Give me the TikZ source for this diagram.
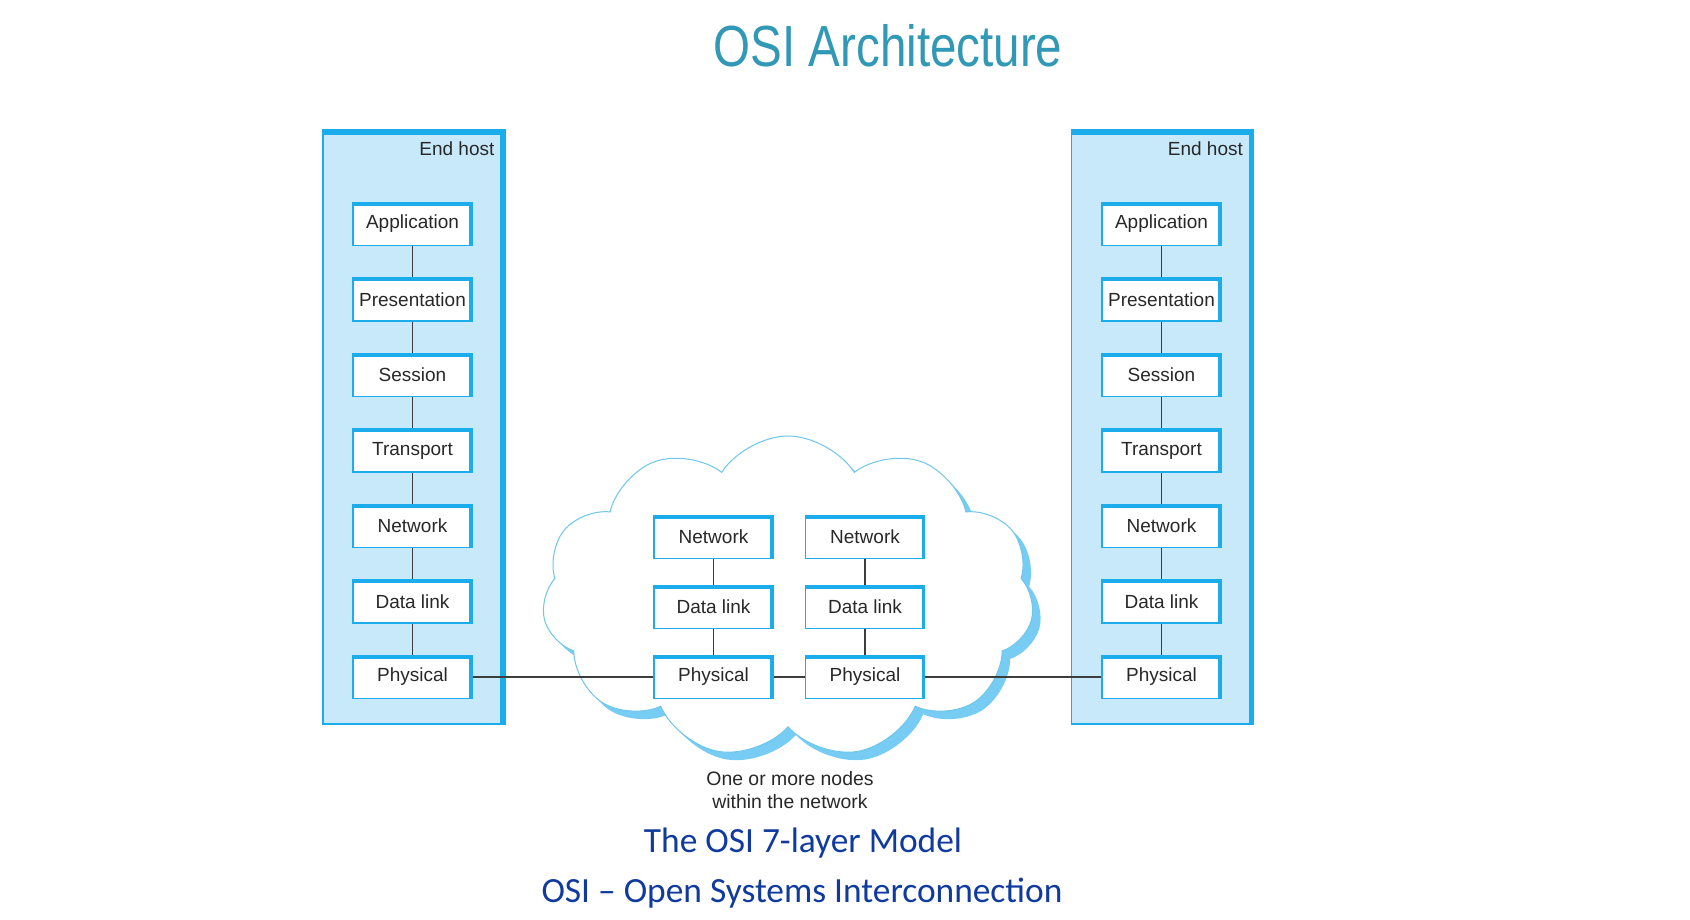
\documentclass[tikz,border=0pt]{standalone}
\usepackage{fontspec}
\usepackage{graphicx}
\setmainfont{Liberation Sans}
\newfontfamily\captionfont[Ligatures=TeX]{Carlito}
\usepackage{tikz}
\usetikzlibrary{shapes.symbols}
\definecolor{hostfill}{RGB}{200,233,249}
\definecolor{hostblue}{RGB}{27,172,235}
\definecolor{cloudline}{RGB}{110,198,235}
\definecolor{cloudshadow}{RGB}{118,204,242}
\definecolor{titleteal}{RGB}{49,152,181}
\definecolor{captionblue}{RGB}{16,58,158}
\definecolor{textgrey}{RGB}{40,40,40}
\tikzstyle{host}=[rectangle,draw=hostblue,line width=1.2pt,fill=hostfill,minimum width=182pt,minimum height=594pt,
  path picture={\fill[hostblue] (path picture bounding box.north west) rectangle ([yshift=-5pt]path picture bounding box.north east);
                \fill[hostblue] ([xshift=-5pt]path picture bounding box.north east) rectangle (path picture bounding box.south east);}]
\tikzstyle{layer}=[rectangle,draw=hostblue,line width=1.2pt,fill=white,minimum width=119pt,minimum height=43pt,inner sep=0pt,
  text=textgrey,font=\fontsize{19}{22}\selectfont,
  path picture={\fill[hostblue] (path picture bounding box.north west) rectangle ([yshift=-3.5pt]path picture bounding box.north east);
                \fill[hostblue] ([xshift=-3pt]path picture bounding box.north east) rectangle (path picture bounding box.south east);}]
\tikzstyle{hostlabel}=[inner sep=0pt,text=textgrey,font=\fontsize{19}{22}\selectfont]
\tikzstyle{netcloud}=[cloud,cloud puffs=11,cloud puff arc=115,aspect=1.5,minimum width=492pt,minimum height=322pt,inner sep=0pt]
\tikzstyle{wire}=[draw=textgrey!90,line width=1.3pt]
\tikzstyle{caption}=[anchor=base,text=captionblue,font=\captionfont\fontsize{35.4}{38}\selectfont]

\begin{document}
\begin{tikzpicture}[x=1pt,y=1pt]
      \path [use as bounding box,fill=white] (0,0) rectangle (1690,920);
      \node [anchor=base,text=titleteal,font=\fontsize{58}{60}\selectfont] (title) at (888,853) {\scalebox{0.82}[1]{OSI Architecture}};

      \node [host] (lefthost) at (414,493) {};
      \node [hostlabel] (lefttag) [anchor=north east] at ([xshift=-11pt,yshift=-12pt]lefthost.north east) {End host};
      \node [layer] (lapp) at (412.5,696) {Application};
      \node [layer] (lpres) [below of=lapp, node distance=75.5pt] {Presentation};
      \node [layer] (lses) [below of=lpres, node distance=75.5pt] {Session};
      \node [layer] (ltrans) [below of=lses, node distance=75.5pt] {Transport};
      \node [layer] (lnet) [below of=ltrans, node distance=75.5pt] {Network};
      \node [layer] (llink) [below of=lnet, node distance=75.5pt] {Data link};
      \node [layer] (lphy) [below of=llink, node distance=75.5pt] {Physical};

      \node [host] (righthost) [right of=lefthost, node distance=748.5pt] {};
      \node [hostlabel] (righttag) [anchor=north east] at ([xshift=-11pt,yshift=-12pt]righthost.north east) {End host};
      \node [layer] (rapp) [right of=lapp, node distance=749pt] {Application};
      \node [layer] (rpres) [below of=rapp, node distance=75.5pt] {Presentation};
      \node [layer] (rses) [below of=rpres, node distance=75.5pt] {Session};
      \node [layer] (rtrans) [below of=rses, node distance=75.5pt] {Transport};
      \node [layer] (rnet) [below of=rtrans, node distance=75.5pt] {Network};
      \node [layer] (rlink) [below of=rnet, node distance=75.5pt] {Data link};
      \node [layer] (rphy) [below of=rlink, node distance=75.5pt] {Physical};

      \node [netcloud,fill=cloudshadow] (shade) at (796,315) {};
      \node [netcloud,fill=white,draw=cloudline,line width=1pt] (cloud) at (788,323) {};
      \node [layer] (mnet1) at (713.5,383) {Network};
      \node [layer] (mlink1) [below of=mnet1, node distance=70pt] {Data link};
      \node [layer] (mphy1) [below of=mlink1, node distance=70pt] {Physical};
      \node [layer] (mnet2) [right of=mnet1, node distance=151.5pt] {Network};
      \node [layer] (mlink2) [below of=mnet2, node distance=70pt] {Data link};
      \node [layer] (mphy2) [below of=mlink2, node distance=70pt] {Physical};

      \draw [wire] (lapp) -- (lpres);
      \draw [wire] (lpres) -- (lses);
      \draw [wire] (lses) -- (ltrans);
      \draw [wire] (ltrans) -- (lnet);
      \draw [wire] (lnet) -- (llink);
      \draw [wire] (llink) -- (lphy);
      \draw [wire] (rapp) -- (rpres);
      \draw [wire] (rpres) -- (rses);
      \draw [wire] (rses) -- (rtrans);
      \draw [wire] (rtrans) -- (rnet);
      \draw [wire] (rnet) -- (rlink);
      \draw [wire] (rlink) -- (rphy);
      \draw [wire] (mnet1) -- (mlink1);
      \draw [wire] (mlink1) -- (mphy1);
      \draw [wire] (mnet2) -- (mlink2);
      \draw [wire] (mlink2) -- (mphy2);
      \draw [wire] (lphy) -- (mphy1);
      \draw [wire] (mphy1) -- (mphy2);
      \draw [wire] (mphy2) -- (rphy);

      \node [align=center,text=textgrey,font=\fontsize{19.4}{23}\selectfont] (note) at (790,130) {One or more nodes\\within the network};
      \node [caption] (model) at (803,67) {The OSI 7-layer Model};
      \node [caption] (osi) at (802,17) {OSI – Open Systems Interconnection};
    \end{tikzpicture}
\end{document}
